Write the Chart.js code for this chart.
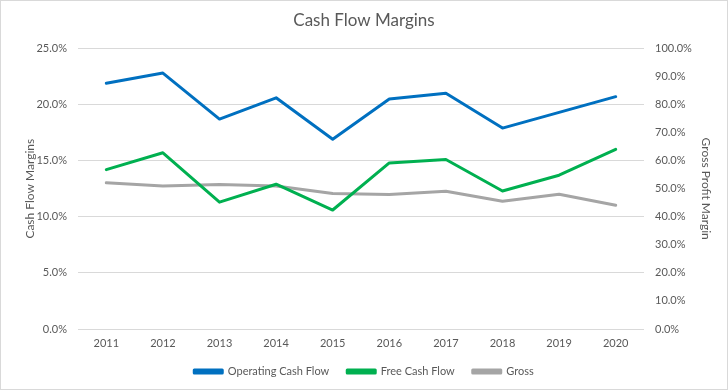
<!DOCTYPE html>
<html>
<head>
<meta charset="utf-8">
<script src="https://cdn.jsdelivr.net/npm/chart.js"></script>
<style>
  html, body { margin: 0; padding: 0; background: #fff; }
  #wrap { width: 728px; height: 390px; position: relative; }
</style>
</head>
<body>
<div id="wrap"><canvas id="chart" width="728" height="390"></canvas></div>
<script>
// values
const years = ['2011', '2012', '2013', '2014', '2015', '2016', '2017', '2018', '2019', '2020'];
const operatingCashFlow = [21.9, 22.8, 18.7, 20.6, 16.9, 20.5, 21.0, 17.9, 19.3, 20.7];
const freeCashFlow = [14.2, 15.7, 11.3, 12.9, 10.6, 14.8, 15.1, 12.3, 13.7, 16.0];
const grossMargin = [52.1, 51.0, 51.5, 51.0, 48.3, 47.9, 49.1, 45.5, 48.0, 44.1];

const FONT = 'Lato, "Open Sans", sans-serif';
const TEXT = '#595959';

const pct = v => v.toFixed(1) + '%';

// light gray frame round the whole chart
const frame = {
  id: 'frame',
  beforeDraw(chart) {
    const c = chart.ctx;
    c.save();
    c.fillStyle = '#fff';
    c.fillRect(0, 0, chart.width, chart.height);
    c.strokeStyle = '#d9d9d9';
    c.lineWidth = 1;
    c.strokeRect(0.5, 0.5, chart.width - 1, chart.height - 1);
    c.restore();
  }
};

new Chart(document.getElementById('chart'), {
  type: 'line',
  data: {
    labels: years,
    datasets: [
      { label: 'Operating Cash Flow', data: operatingCashFlow, yAxisID: 'y',
        borderColor: '#0070C0', backgroundColor: '#0070C0' },
      { label: 'Free Cash Flow', data: freeCashFlow, yAxisID: 'y',
        borderColor: '#00B050', backgroundColor: '#00B050' },
      { label: 'Gross', data: grossMargin, yAxisID: 'y1',
        borderColor: '#A5A5A5', backgroundColor: '#A5A5A5' }
    ]
  },
  plugins: [frame],
  options: {
    responsive: false,
    animation: false,
    devicePixelRatio: 1,
    layout: { padding: { left: 0, right: 0, top: 0, bottom: 3 } },
    elements: {
      line: { borderWidth: 3, tension: 0, borderCapStyle: 'round', borderJoinStyle: 'round' },
      point: { radius: 0, hoverRadius: 0 }
    },
    plugins: {
      title: {
        display: true,
        text: 'Cash Flow Margins',
        color: TEXT,
        font: { family: FONT, size: 17, weight: 'normal' },
        padding: { top: 10, bottom: 18 }
      },
      legend: {
        position: 'bottom',
        labels: {
          color: TEXT,
          font: { family: FONT, size: 11 },
          boxWidth: 28,
          boxHeight: 3,
          padding: 18
        }
      },
      tooltip: { enabled: false }
    },
    scales: {
      x: {
        offset: true,
        grid: { display: false, drawTicks: false },
        border: { display: false },
        ticks: { color: TEXT, font: { family: FONT, size: 11 }, padding: 8, maxRotation: 0 },
        afterFit(s) { s.height = 19; }
      },
      y: {
        position: 'left',
        min: 0, max: 25,
        ticks: { stepSize: 5, color: TEXT, font: { family: FONT, size: 11 }, padding: 11, callback: pct },
        grid: { color: '#d9d9d9', drawTicks: false },
        border: { display: false },
        title: { display: true, text: 'Cash Flow Margins', color: TEXT,
                 font: { family: FONT, size: 12 }, padding: { top: 23, bottom: 0 } },
        afterFit(s) { s.width = 78; }
      },
      y1: {
        position: 'right',
        min: 0, max: 100,
        ticks: { stepSize: 10, color: TEXT, font: { family: FONT, size: 11 }, padding: 11, callback: pct },
        grid: { display: false, drawTicks: false },
        border: { display: false },
        title: { display: true, text: 'Gross Profit Margin', color: TEXT,
                 font: { family: FONT, size: 12 }, padding: { top: 15, bottom: 0 } },
        afterFit(s) { s.width = 84; }
      }
    }
  }
});
</script>
</body>
</html>
